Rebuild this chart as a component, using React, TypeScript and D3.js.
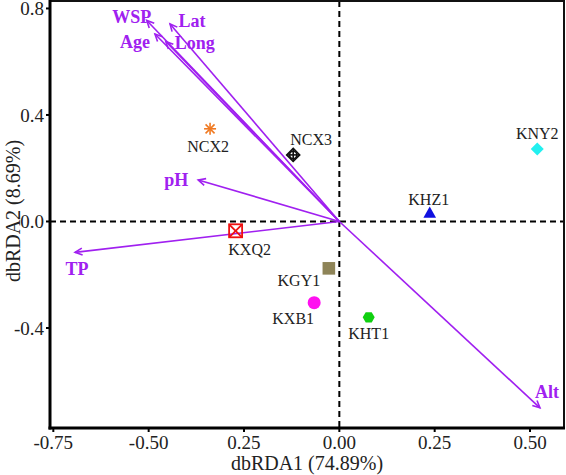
import React from "react";
import * as d3 from "d3";

// ---- data ----
const sampleNames = ["NCX2", "NCX3", "KNY2", "KHZ1", "KXQ2", "KGY1", "KXB1", "KHT1"];
const sampleX = [-0.339, -0.121, 0.519, 0.237, -0.272, -0.0275, -0.066, 0.077];
const sampleY = [0.348, 0.25, 0.272, 0.03, -0.035, -0.176, -0.305, -0.36];
const sampleShape = ["asterisk", "diamondPlus", "diamond", "triangle", "squareX", "square", "circle", "hexagon"];
const sampleColor = ["#f07a22", "#111111", "#22f0f0", "#1010e0", "#ee1111", "#8e8458", "#ff10f0", "#10d010"];
const sampleLabelDx = [-2, 18, 0, -1, 14, -30, -21, 0];
const sampleLabelDy = [18, -16, -16, -14, 19, 12, 16, 16];

const envNames = ["WSP", "Lat", "Age", "Long", "pH", "TP", "Alt"];
const envX = [-0.505, -0.444, -0.4835, -0.455, -0.37, -0.693, 0.526];
const envY = [0.755, 0.742, 0.704, 0.676, 0.156, -0.116, -0.7];
const envLabelDx = [-15, 22, -20, 29, -22, 2, 7];
const envLabelDy = [-4, -3, 8, 1, 0, 16, -16];

const xTicks = [-0.75, -0.5, -0.25, 0, 0.25, 0.5];
const xTickLabels = ["-0.75", "-0.50", "0.25", "0.00", "0.25", "0.50"];
const yTicks = [0.8, 0.4, 0, -0.4];
const yTickLabels = ["0.8", "0.4", "0.0", "-0.4"];

const xTitle = "dbRDA1 (74.89%)";
const yTitle = "dbRDA2 (8.69%)";

const W = 566;
const H = 475;
const L = 50, R = 564, T = 1, B = 428;
const PURPLE = "#a020f0";
const FONT = "'Liberation Serif', 'Times New Roman', serif";

function Marker({ shape, color, cx, cy }: { shape: string; color: string; cx: number; cy: number }) {
  switch (shape) {
    case "asterisk": {
      const r = 6;
      const d = r * 0.75;
      return (
        <g stroke={color} strokeWidth={1.6}>
          <line x1={cx - r} y1={cy} x2={cx + r} y2={cy} />
          <line x1={cx} y1={cy - r} x2={cx} y2={cy + r} />
          <line x1={cx - d} y1={cy - d} x2={cx + d} y2={cy + d} />
          <line x1={cx - d} y1={cy + d} x2={cx + d} y2={cy - d} />
        </g>
      );
    }
    case "diamondPlus": {
      const r = 6.5;
      return (
        <g stroke={color} strokeWidth={1.6} fill="none">
          <path d={`M${cx},${cy - r}L${cx + r},${cy}L${cx},${cy + r}L${cx - r},${cy}Z`} />
          <circle cx={cx} cy={cy} r={3.6} />
          <line x1={cx - r} y1={cy} x2={cx + r} y2={cy} />
          <line x1={cx} y1={cy - r} x2={cx} y2={cy + r} />
        </g>
      );
    }
    case "diamond": {
      const r = 6.5;
      return <path d={`M${cx},${cy - r}L${cx + r},${cy}L${cx},${cy + r}L${cx - r},${cy}Z`} fill={color} />;
    }
    case "triangle": {
      const r = 7;
      return <path d={`M${cx},${cy - r}L${cx + r * 0.9},${cy + r * 0.6}L${cx - r * 0.9},${cy + r * 0.6}Z`} fill={color} />;
    }
    case "squareX": {
      const s = 6.5;
      return (
        <g stroke={color} strokeWidth={1.8} fill="none">
          <rect x={cx - s} y={cy - s} width={2 * s} height={2 * s} />
          <line x1={cx - s} y1={cy - s} x2={cx + s} y2={cy + s} />
          <line x1={cx - s} y1={cy + s} x2={cx + s} y2={cy - s} />
        </g>
      );
    }
    case "square": {
      const s = 6.3;
      return <rect x={cx - s} y={cy - s} width={2 * s} height={2 * s} fill={color} />;
    }
    case "circle":
      return <circle cx={cx} cy={cy} r={6.5} fill={color} />;
    case "hexagon": {
      const pts = d3.range(6).map((i) => {
        const a = (Math.PI / 3) * i;
        return `${cx + 6 * Math.cos(a)},${cy + 6 * Math.sin(a)}`;
      });
      return <polygon points={pts.join(" ")} fill={color} />;
    }
    default:
      return null;
  }
}

export default function App() {
  const x = d3.scaleLinear().domain([-0.7587, 0.5891]).range([L, R]);
  const y = d3.scaleLinear().domain([-0.7756, 0.828]).range([B, T]);
  const x0 = x(0);
  const y0 = y(0);

  const arrowHead = (tx: number, ty: number) => {
    const ang = Math.atan2(ty - y0, tx - x0);
    const len = 8;
    const spread = Math.PI / 7;
    const a1 = ang + Math.PI - spread;
    const a2 = ang + Math.PI + spread;
    return `M${tx + len * Math.cos(a1)},${ty + len * Math.sin(a1)}L${tx},${ty}L${tx + len * Math.cos(a2)},${ty + len * Math.sin(a2)}`;
  };

  return (
    <svg
      width={W}
      height={H}
      style={{ position: "absolute", left: 0, top: 0, background: "#fff" }}
      fontFamily={FONT}
    >
      <rect x={0} y={0} width={W} height={H} fill="#fff" />
      {/* dashed zero lines */}
      <line x1={x0} x2={x0} y1={T} y2={B} stroke="#000" strokeWidth={2} strokeDasharray="6,4" />
      <line x1={L} x2={R} y1={y0} y2={y0} stroke="#000" strokeWidth={2} strokeDasharray="6,4" />

      {/* arrows */}
      {envNames.map((n, i) => {
        const tx = x(envX[i]);
        const ty = y(envY[i]);
        return (
          <g key={n}>
            <line x1={x0} y1={y0} x2={tx} y2={ty} stroke={PURPLE} strokeWidth={1.6} />
            <path d={arrowHead(tx, ty)} stroke={PURPLE} strokeWidth={1.6} fill="none" />
            <text
              x={tx + envLabelDx[i]}
              y={ty + envLabelDy[i]}
              dy="0.35em"
              textAnchor="middle"
              fontWeight="bold"
              fontSize={18}
              fill={PURPLE}
            >
              {n}
            </text>
          </g>
        );
      })}

      {/* samples */}
      {sampleNames.map((n, i) => {
        const cx = x(sampleX[i]);
        const cy = y(sampleY[i]);
        return (
          <g key={n}>
            <Marker shape={sampleShape[i]} color={sampleColor[i]} cx={cx} cy={cy} />
            <text
              x={cx + sampleLabelDx[i]}
              y={cy + sampleLabelDy[i]}
              dy="0.35em"
              textAnchor="middle"
              fontSize={16}
              fill="#222"
            >
              {n}
            </text>
          </g>
        );
      })}

      {/* frame */}
      <rect x={L} y={T} width={R - L} height={B - T} fill="none" stroke="#111" strokeWidth={2} />
      <line x1={L} x2={L} y1={T - 1} y2={B + 1.5} stroke="#000" strokeWidth={3} />
      <line x1={L - 1.5} x2={R + 1} y1={B} y2={B} stroke="#000" strokeWidth={3} />

      {/* x ticks */}
      {xTicks.map((t, i) => (
        <g key={"x" + i}>
          <line x1={x(t)} x2={x(t)} y1={B} y2={B + 4} stroke="#000" strokeWidth={2} />
          <text x={x(t)} y={B + 14} dy="0.35em" textAnchor="middle" fontSize={19} fill="#222">
            {xTickLabels[i]}
          </text>
        </g>
      ))}
      {/* y ticks */}
      {yTicks.map((t, i) => (
        <g key={"y" + i}>
          <line x1={L - 4} x2={L} y1={y(t)} y2={y(t)} stroke="#000" strokeWidth={2} />
          <text x={L - 6} y={y(t)} dy="0.35em" textAnchor="end" fontSize={19} fill="#222">
            {yTickLabels[i]}
          </text>
        </g>
      ))}

      <text x={(L + R) / 2} y={463} dy="0.35em" textAnchor="middle" fontSize={20} fill="#222">
        {xTitle}
      </text>
      <text
        transform={`translate(13,211) rotate(-90)`}
        dy="0.35em"
        textAnchor="middle"
        fontSize={20}
        fill="#222"
      >
        {yTitle}
      </text>
    </svg>
  );
}
